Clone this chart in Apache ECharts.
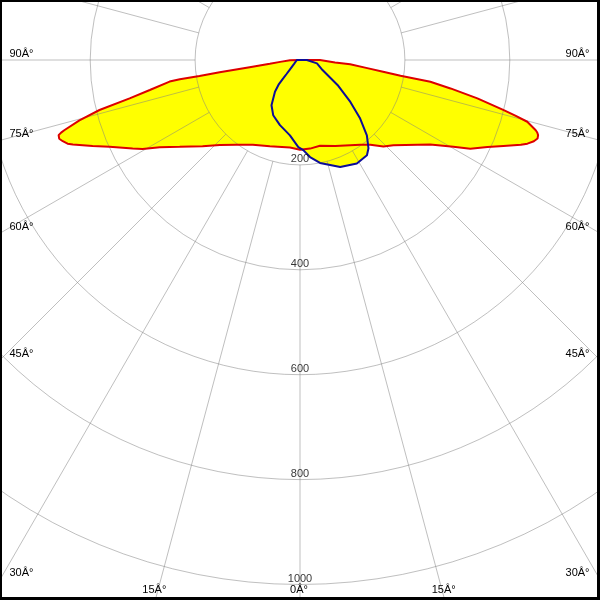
<!DOCTYPE html>
<html><head><meta charset="utf-8">
<script src="https://cdn.jsdelivr.net/npm/echarts@6/dist/echarts.min.js"></script>
<style>html,body{margin:0;padding:0;background:#fff}#c{width:600px;height:600px}</style>
</head><body><div id="c"></div>
<script>
// ---- data (angle in degrees from nadir, positive = right; value in cd/klm) ----
const radiusTicks = [200, 400, 600, 800, 1000];
const radiusTickLabels = ['200', '400', '600', '800', '1000'];
const angleTicks = [-90, -75, -60, -45, -30, -15, 0, 15, 30, 45, 60, 75, 90];
const angleTickLabels = ['90Â°', '75Â°', '60Â°', '45Â°', '30Â°', '15Â°', '0Â°', '15Â°', '30Â°', '45Â°', '60Â°', '75Â°', '90Â°'];

const planeC0Angles = [-90, -88.9, -84.6, -83.0, -81.9, -81.3, -81.0, -80.9, -80.6, -78.7,
  -77.3, -76.0, -74.7, -73.4, -73.1, -72.7, -71.9, -71.1, -70.2, -69.6,
  -67.5, -65.5, -62.1, -60.5, -58.1, -54.2, -48.5, -43.3, -36.9, -29.1,
  -19.3, -6.5, 0, 6.5, 13.1, 22.3, 35.4, 39.7, 44.0, 47.6,
  54.2, 57.0, 60.5, 62.5, 65.1, 67.1, 69.0, 69.8, 70.85, 71.7,
  72.5, 73.0, 73.4, 74.8, 75.5, 76.2, 77.8, 79.3, 80.5, 81.1,
  82.0, 83.2, 85.1, 85.9, 90, 90];
const planeC0Values = [0, 19, 38, 58, 97, 155, 194, 232, 252, 292,
  333, 394, 436, 469, 476, 482, 483, 478, 471, 462,
  428, 399, 361, 345, 315, 283, 248, 223, 202, 185,
  174, 168, 171, 170, 168, 177, 198, 210, 229, 241,
  276, 296, 336, 366, 394, 421, 451, 462, 472, 477,
  476, 473, 469, 449, 425, 400, 346, 292, 252, 194,
  160, 127, 96, 67, 38, 0];

const planeC90Angles = [-90, -90, -66, -56.3, -47.1, -43.9, -42.4, -41.2, -38.3, -32.2,
  -25.9, -17.1, -7.6, -1.1, 2.1, 5.9, 11.0, 20.6, 28.8, 35.1,
  37.8, 41.6, 45.8, 50.2, 56.0, 66, 78.8, 90, 90];
const planeC90Values = [0, 6, 9, 14, 26, 37, 47, 61, 77, 102,
  117, 130, 145, 166, 172, 186, 200, 218, 225, 222,
  213, 192, 160, 125, 88, 47, 33, 13, 0];

// ---- layout ----
const W = 600, H = 600;
const CX = 300, CY = 60, PX_PER_UNIT = 0.5245, RMAX = 1200, SPOKE_START = 200;
const FONT = '11px "Liberation Sans", Arial, sans-serif';
const GRID = 'rgba(128,128,128,0.5)';

const toData = (angles, values) => angles.map((a, i) => [values[i], a]);
const c0 = toData(planeC0Angles, planeC0Values);
const c90 = toData(planeC90Angles, planeC90Values);

const chart = echarts.init(document.getElementById('c'), null, {renderer: 'canvas'});

const fillSeries = (data) => ({
  type: 'line', coordinateSystem: 'polar', polarIndex: 0, data, symbol: 'none', silent: true,
  lineStyle: {opacity: 0, width: 0}, areaStyle: {color: '#ffff00', opacity: 1}, z: 1
});
const strokeSeries = (data, color, z) => ({
  type: 'line', coordinateSystem: 'polar', polarIndex: 0, data, symbol: 'none', silent: true,
  lineStyle: {color, width: 2}, z
});
const angleBase = {
  type: 'value', min: -180, max: 180, interval: 15, startAngle: 90, clockwise: false,
  axisLine: {show: false}, axisTick: {show: false}, axisLabel: {show: false}, z: 3
};

chart.setOption({
  animation: false,
  backgroundColor: '#ffffff',
  polar: [
    {center: [CX, CY], radius: RMAX * PX_PER_UNIT},
    {center: [CX, CY], radius: [SPOKE_START * PX_PER_UNIT, RMAX * PX_PER_UNIT]}
  ],
  angleAxis: [
    Object.assign({}, angleBase, {polarIndex: 0, splitLine: {show: false}}),
    Object.assign({}, angleBase, {polarIndex: 1, splitLine: {show: true, lineStyle: {color: GRID, width: 1}}})
  ],
  radiusAxis: [
    {polarIndex: 0, type: 'value', min: 0, max: RMAX, interval: 200,
      axisLine: {show: false}, axisTick: {show: false}, axisLabel: {show: false},
      splitLine: {show: true, lineStyle: {color: GRID, width: 1}}, z: 3},
    {polarIndex: 1, type: 'value', min: SPOKE_START, max: RMAX, interval: 200,
      axisLine: {show: false}, axisTick: {show: false}, axisLabel: {show: false},
      splitLine: {show: false}, z: 3}
  ],
  series: [
    fillSeries(c0),
    fillSeries(c90),
    strokeSeries(c0, '#dd0000', 5),
    strokeSeries(c90, '#0c0c98', 6),
    {
      type: 'scatter', coordinateSystem: 'polar', polarIndex: 0, silent: true, z: 8,
      data: radiusTicks.map(r => [r, 0]),
      symbolSize: 0.1, itemStyle: {color: 'rgba(0,0,0,0)'},
      label: {
        show: true, position: 'inside', offset: [0, -6],
        formatter: p => radiusTickLabels[p.dataIndex],
        color: '#000', fontSize: 11, fontFamily: '"Liberation Sans", Arial, sans-serif'
      }
    }
  ]
});

// angle labels placed where each radial line meets the frame
let center;
try { center = chart.convertToPixel({polarIndex: 0}, [0, 0]); } catch (e) { center = null; }
if (!center || isNaN(center[0])) center = [CX, CY];
const cx = center[0], cy = center[1];
const graphics = [];
angleTicks.forEach((a, i) => {
  let p;
  try { p = chart.convertToPixel({polarIndex: 0}, [RMAX, a]); } catch (e) { p = null; }
  if (!p || isNaN(p[0])) {
    const r = RMAX * PX_PER_UNIT, rad = a * Math.PI / 180;
    p = [cx + r * Math.sin(rad), cy + r * Math.cos(rad)];
  }
  const dx = p[0] - cx, dy = p[1] - cy;
  const tx = Math.abs(dx) < 1e-6 ? Infinity : (dx < 0 ? (0 - cx) / dx : (W - cx) / dx);
  const ty = dy <= 1e-6 ? Infinity : (H - cy) / dy;
  if (tx < ty) {
    const yi = cy + dy * tx;
    graphics.push({type: 'text', x: dx < 0 ? 9.5 : W - 10.5, y: yi - 6.5, z: 10, silent: true,
      style: {text: angleTickLabels[i], fill: '#000', font: FONT,
        textAlign: dx < 0 ? 'left' : 'right', align: dx < 0 ? 'left' : 'right',
        textVerticalAlign: 'middle', verticalAlign: 'middle'}});
  } else {
    const xi = cx + dx * ty;
    graphics.push({type: 'text', x: xi - 1, y: H - 10.5, z: 10, silent: true,
      style: {text: angleTickLabels[i], fill: '#000', font: FONT,
        textAlign: 'center', align: 'center', textVerticalAlign: 'middle', verticalAlign: 'middle'}});
  }
});
// black frame
graphics.push({type: 'rect', shape: {x: 0, y: 0, width: W, height: 2}, style: {fill: '#000'}, z: 20, silent: true});
graphics.push({type: 'rect', shape: {x: 0, y: 0, width: 2, height: H}, style: {fill: '#000'}, z: 20, silent: true});
graphics.push({type: 'rect', shape: {x: W - 3, y: 0, width: 3, height: H}, style: {fill: '#000'}, z: 20, silent: true});
graphics.push({type: 'rect', shape: {x: 0, y: H - 3, width: W, height: 3}, style: {fill: '#000'}, z: 20, silent: true});
chart.setOption({graphic: graphics});
</script>
</body></html>
